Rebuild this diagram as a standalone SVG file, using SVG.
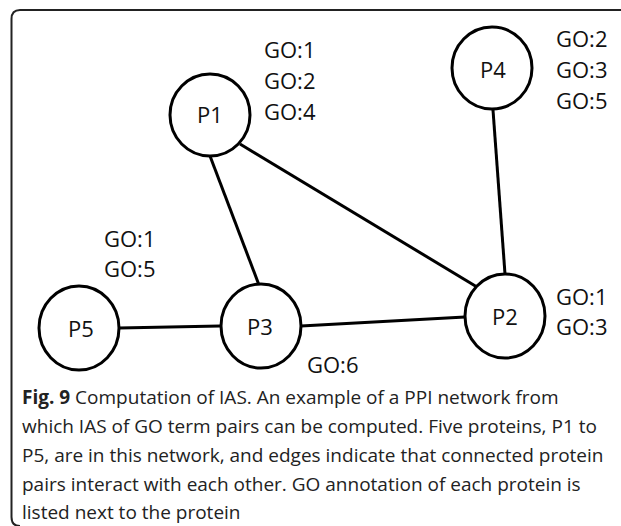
<svg xmlns="http://www.w3.org/2000/svg" width="621" height="526" viewBox="0 0 621 526">
<style>
.node{fill:#fff;stroke:#000;stroke-width:3}
.edge{stroke:#000;stroke-width:3;fill:none}
.lbl{font-family:"Open Sans","Liberation Sans",sans-serif;font-size:22px;fill:#111}
.go{font-family:"Open Sans","Liberation Sans",sans-serif;font-size:22px;fill:#111}
.cap{font-family:"Open Sans","Liberation Sans",sans-serif;font-size:19px;fill:#222}
</style>
<rect width="621" height="526" fill="#fff"/>
<path d="M621 10 H20 Q11.5 10 11.5 19 V517 Q11.5 526 20 526" fill="none" stroke="#222" stroke-width="2"/>
<g id="connectors">
<line class="edge" x1="210" y1="156" x2="259" y2="285"/>
<line class="edge" x1="240" y1="144" x2="477" y2="287"/>
<line class="edge" x1="493" y1="110" x2="505" y2="274"/>
<line class="edge" x1="119" y1="328" x2="220" y2="326"/>
<line class="edge" x1="301" y1="326" x2="465" y2="317"/>
</g>
<g id="P1">
<ellipse class="node" cx="210" cy="115" rx="40" ry="41"/>
<text class="lbl" x="210" y="123" text-anchor="middle">P1</text>
<text class="go" x="264" y="58">GO:1</text>
<text class="go" x="264" y="89">GO:2</text>
<text class="go" x="264" y="120">GO:4</text>
</g>
<g id="P4">
<ellipse class="node" cx="492" cy="68" rx="40" ry="41"/>
<text class="lbl" x="493" y="78" text-anchor="middle">P4</text>
<text class="go" x="556" y="47">GO:2</text>
<text class="go" x="556" y="78">GO:3</text>
<text class="go" x="556" y="109">GO:5</text>
</g>
<g id="P2">
<ellipse class="node" cx="505" cy="316" rx="40" ry="42"/>
<text class="lbl" x="505" y="325" text-anchor="middle">P2</text>
<text class="go" x="556" y="305">GO:1</text>
<text class="go" x="556" y="335">GO:3</text>
</g>
<g id="P3">
<ellipse class="node" cx="261" cy="326" rx="40" ry="42"/>
<text class="lbl" x="260" y="335" text-anchor="middle">P3</text>
<text class="go" x="307" y="373">GO:6</text>
</g>
<g id="P5">
<ellipse class="node" cx="79" cy="328" rx="40" ry="42"/>
<text class="lbl" x="81" y="337" text-anchor="middle">P5</text>
<text class="go" x="104" y="247">GO:1</text>
<text class="go" x="104" y="277">GO:5</text>
</g>
<g id="caption">
<text class="cap" x="22" y="404"><tspan font-weight="bold">Fig. 9</tspan> Computation of IAS. An example of a PPI network from</text>
<text class="cap" x="22" y="433">which IAS of GO term pairs can be computed. Five proteins, P1 to</text>
<text class="cap" x="22" y="462">P5, are in this network, and edges indicate that connected protein</text>
<text class="cap" x="22" y="491">pairs interact with each other. GO annotation of each protein is</text>
<text class="cap" x="22" y="519">listed next to the protein</text>
</g>
</svg>
